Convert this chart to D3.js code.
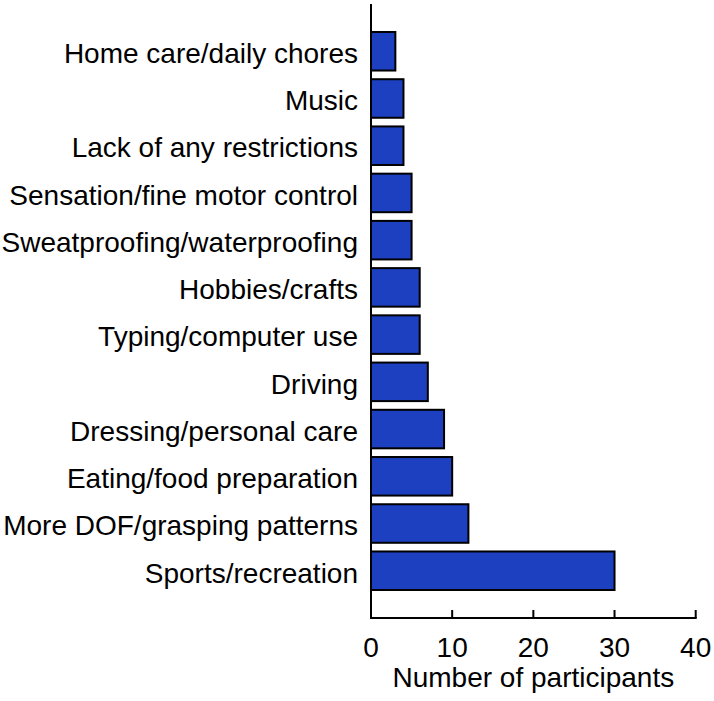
<!DOCTYPE html>
<html>
<head>
<meta charset="utf-8">
<script src="https://cdn.jsdelivr.net/npm/d3@7"></script>
<style>
html,body{margin:0;padding:0;background:#fff;}
svg{display:block;}
text{font-family:"Liberation Sans",Arial,sans-serif;fill:#000;}
</style>
</head>
<body>
<svg id="chart" width="714" height="701"></svg>
<script>
const categories = [
  "Home care/daily chores",
  "Music",
  "Lack of any restrictions",
  "Sensation/fine motor control",
  "Sweatproofing/waterproofing",
  "Hobbies/crafts",
  "Typing/computer use",
  "Driving",
  "Dressing/personal care",
  "Eating/food preparation",
  "More DOF/grasping patterns",
  "Sports/recreation"
];
const values = [3, 4, 4, 5, 5, 6, 6, 7, 9, 10, 12, 30];
const xTicks = [0, 10, 20, 30, 40];
const xTitle = "Number of participants";

const svg = d3.select("#chart");
const axisX = 371, axisTop = 4, axisBottom = 618;
const fs = 28;
const x = d3.scaleLinear().domain([0, 40]).range([axisX, 695.7]);
const y = d3.scaleBand().domain(categories).range([23.3, 598.7]).paddingInner(0.184).paddingOuter(0.184);

// bars
svg.append("g").selectAll("rect").data(categories).join("rect")
  .attr("x", x(0))
  .attr("y", d => y(d))
  .attr("width", (d, i) => x(values[i]) - x(0))
  .attr("height", y.bandwidth())
  .attr("fill", "#1c40c0")
  .attr("stroke", "#000")
  .attr("stroke-width", 2);

// category labels
svg.append("g").selectAll("text").data(categories).join("text")
  .attr("x", axisX - 13)
  .attr("y", d => y(d) + y.bandwidth() / 2)
  .attr("dy", "0.42em")
  .attr("text-anchor", "end")
  .attr("font-size", fs)
  .text(d => d);

// axes lines
svg.append("line").attr("x1", axisX).attr("x2", axisX).attr("y1", axisTop).attr("y2", axisBottom)
  .attr("stroke", "#000").attr("stroke-width", 2);
svg.append("line").attr("x1", axisX - 1).attr("x2", x(40) + 1).attr("y1", axisBottom).attr("y2", axisBottom)
  .attr("stroke", "#000").attr("stroke-width", 2);

// x ticks (inward)
svg.append("g").selectAll("line").data(xTicks.slice(1)).join("line")
  .attr("x1", d => x(d)).attr("x2", d => x(d))
  .attr("y1", axisBottom).attr("y2", axisBottom - 8)
  .attr("stroke", "#000").attr("stroke-width", 2);

svg.append("g").selectAll("text").data(xTicks).join("text")
  .attr("x", d => x(d))
  .attr("y", axisBottom + 39)
  .attr("text-anchor", "middle")
  .attr("font-size", fs)
  .text(d => d);

svg.append("text")
  .attr("x", (x(0) + x(40)) / 2)
  .attr("y", 687)
  .attr("text-anchor", "middle")
  .attr("font-size", fs)
  .text(xTitle);
</script>
</body>
</html>
